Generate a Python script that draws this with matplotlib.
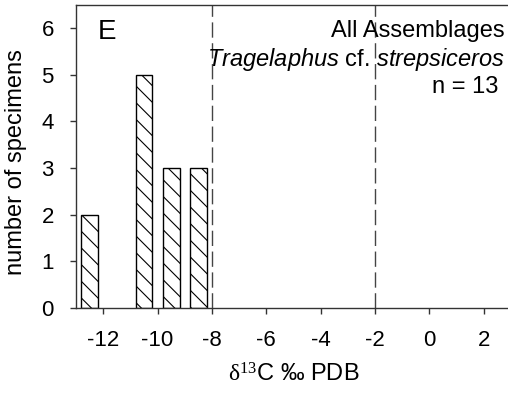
import matplotlib.pyplot as plt

plt.rcParams['font.family'] = 'Liberation Sans'
plt.rcParams['mathtext.fontset'] = 'custom'
plt.rcParams['mathtext.rm'] = 'Liberation Serif'
plt.rcParams['mathtext.it'] = 'Liberation Sans:italic'
plt.rcParams['hatch.linewidth'] = 0.8

# histogram of d13C values (bin centres, counts)
bin_centres = [-12.5, -10.5, -9.5, -8.5]
counts = [2, 5, 3, 3]
bar_width = 0.62

# dashed boundary lines
boundaries = [-8, -2]

x_ticks = [-12, -10, -8, -6, -4, -2, 0, 2]
y_ticks = [0, 1, 2, 3, 4, 5, 6]

W, H = 508, 397
fs = 16      # tick labels
fs_txt = 17  # axis labels and annotation

fig = plt.figure(figsize=(W / 100, H / 100), dpi=100)
ax = fig.add_axes([76 / W, 89 / H, 435 / W, 303.5 / H])

ax.bar(bin_centres, counts, width=bar_width, color='white', edgecolor='black',
       linewidth=1.0, hatch='\\\\', zorder=2)

for b in boundaries:
    ln = ax.axvline(b, color='#444444', linewidth=1.0, zorder=1)
    ln.set_dashes([11, 4])

ax.set_xlim(-13, 3)
ax.set_ylim(0, 6.5)
ax.set_xticks(x_ticks)
ax.set_xticklabels([str(t) for t in x_ticks])
ax.set_yticks(y_ticks)
ax.tick_params(axis='both', labelsize=fs, length=4, width=1, direction='out', color='#333333')
ax.tick_params(axis='x', pad=12)
ax.tick_params(axis='y', pad=12)

ax.spines['right'].set_visible(False)
for s in ['left', 'bottom', 'top']:
    ax.spines[s].set_linewidth(1.0)
    ax.spines[s].set_color('#333333')

ax.set_ylabel('number of specimens', fontsize=fs_txt)
ax.yaxis.set_label_coords(-(76 - 27) / 435, 0.48)
ax.set_xlabel(r'$\mathrm{\delta^{13}}$C ‰ PDB', fontsize=fs_txt, labelpad=9)


def px_text(x, y, s, **kw):
    # place text by pixel position (from top-left), baseline aligned
    return fig.text(x / W, 1 - y / H, s, va='baseline', **kw)


px_text(98, 39, 'E', fontsize=20, ha='left')
px_text(505, 37, 'All Assemblages', fontsize=fs_txt, ha='right')
px_text(505, 66, r'$\mathit{Tragelaphus}$ cf. $\mathit{strepsiceros}$', fontsize=fs_txt, ha='right')
px_text(498, 93, 'n = 13', fontsize=fs_txt, ha='right')

fig.savefig('out.png', dpi=100)
